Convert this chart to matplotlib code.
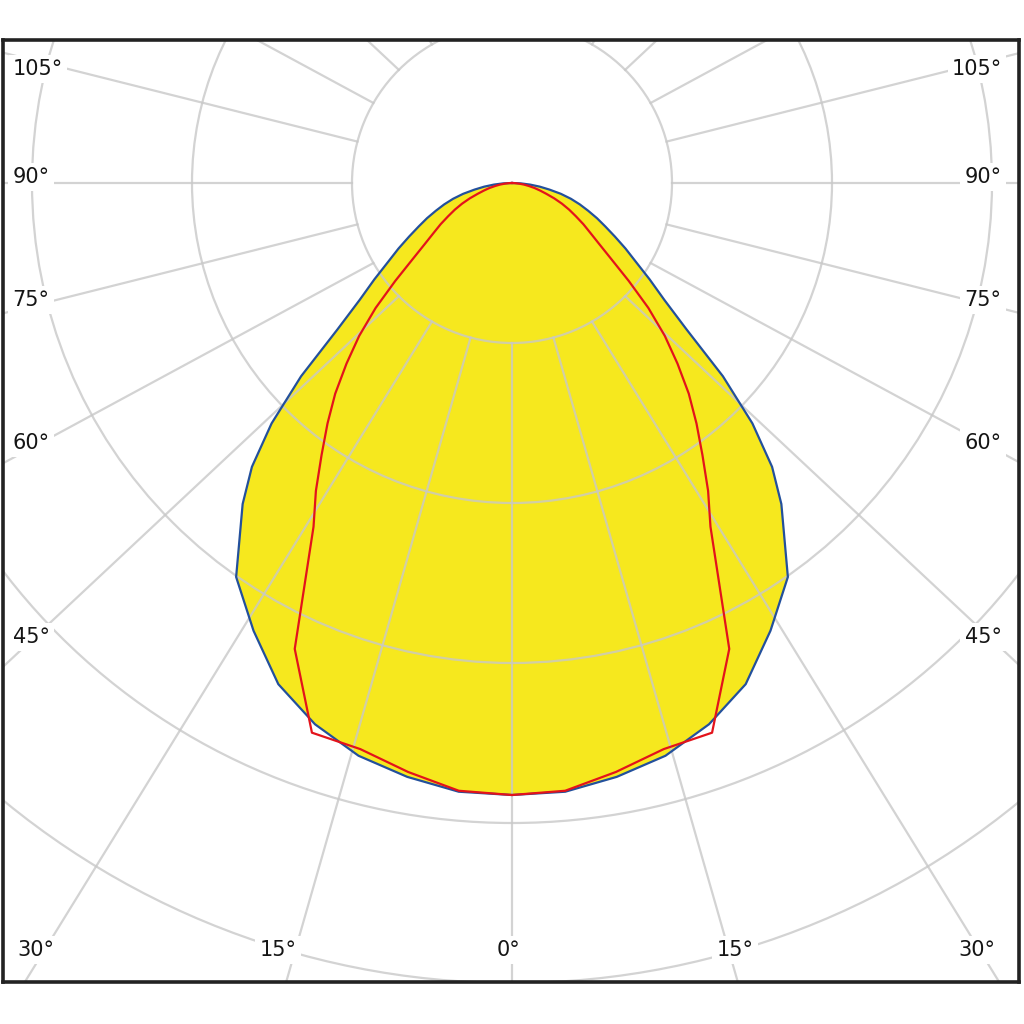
import numpy as np
import matplotlib.pyplot as plt
from matplotlib.patches import Circle

# gamma angles (deg from nadir) and intensities
gamma_c0 = [0, 5, 10, 15, 20, 25, 30, 35, 40, 42.5, 45, 47.5, 50, 52.5, 55, 57.5,
            60, 62.5, 65, 67.5, 70, 72.5, 75, 77.5, 80, 82.5, 85, 87.5, 90]
c0_c180 = [382.5, 381.9, 376.9, 370.6, 360.0, 345.6, 323.1, 300.6, 261.9, 240.6,
           212.5, 178.8, 142.5, 120.0, 105.0, 91.9, 81.9, 72.5, 64.4, 57.5, 50.6,
           44.4, 38.1, 31.3, 23.8, 17.5, 11.3, 5.6, 0]

gamma_c90 = [0, 5, 10, 15, 20, 25, 30, 32.5, 35, 37.5, 40, 42.5, 45, 47.5, 50, 52.5,
             55, 57.5, 60, 62.5, 65, 67.5, 70, 72.5, 75, 77.5, 80, 82.5, 85, 87.5, 90]
c90_c270 = [382.5, 381.3, 373.8, 366.3, 365.6, 321.3, 248.1, 228.1, 207.5, 189.4,
            171.9, 153.1, 135.0, 115.6, 95.3, 78.4, 66.6, 58.1, 51.5, 45.0, 39.4,
            33.8, 28.1, 22.5, 18.1, 14.4, 10.6, 7.5, 4.4, 1.9, 0]

ring_values = [100, 200, 300, 400, 500, 600]
spoke_angles = list(range(-180, 181, 15))

side_labels = ["105°", "90°", "75°", "60°", "45°"]
bottom_labels = ["30°", "15°", "0°", "15°", "30°"]

PX = 1.6  # pixels per intensity unit
CX, CY = 512, 183  # pole position in pixels
SPOKE_STRETCH = 1.057  # spokes fan out a little wider than the true angle


def to_xy(angles, values):
    a = np.radians(np.asarray(angles, dtype=float))
    v = np.asarray(values, dtype=float)
    return v * np.sin(a), -v * np.cos(a)


def mirrored(angles, values):
    a = [-g for g in angles[::-1]] + list(angles[1:])
    v = list(values[::-1]) + list(values[1:])
    return a, v


fig = plt.figure(figsize=(10.24, 10.24), dpi=100)
left_px, right_px, top_px, bottom_px = 3, 1019, 40, 982
ax = fig.add_axes([left_px / 1024, 1 - bottom_px / 1024,
                   (right_px - left_px) / 1024, (bottom_px - top_px) / 1024])
ax.set_xlim((left_px - CX) / PX, (right_px - CX) / PX)
ax.set_ylim((CY - bottom_px) / PX, (CY - top_px) / PX)
ax.set_xticks([])
ax.set_yticks([])
for s in ax.spines.values():
    s.set_linewidth(2.6)
    s.set_color("#222222")

grid_kw = dict(color="#c8c8c8", lw=1.6, alpha=0.8, zorder=2)

# blue (C0-C180) filled
ga, va = mirrored(gamma_c0, c0_c180)
bx, by = to_xy(ga, va)
ax.fill(bx, by, color="#f6e81e", zorder=1, lw=0)

# grid
for r in ring_values:
    ax.add_patch(Circle((0, 0), r, fill=False, ec=grid_kw["color"], lw=grid_kw["lw"],
                        alpha=grid_kw["alpha"], zorder=2))
for g in spoke_angles:
    x0, y0 = to_xy([g], [ring_values[0]])
    x1, y1 = to_xy([g], [625])
    ax.plot([x0[0], x1[0] * SPOKE_STRETCH], [y0[0], y1[0]], **grid_kw)

ax.plot(bx, by, color="#23509c", lw=1.6, zorder=3)

ra, rv = mirrored(gamma_c90, c90_c270)
rx, ry = to_xy(ra, rv)
ax.plot(rx, ry, color="#e3131b", lw=1.6, zorder=4)

# angle labels
txt_kw = dict(fontsize=15, ha="center", va="center", color="#151515", zorder=6,
              bbox=dict(boxstyle="square,pad=0.2", fc="white", ec="none"))
side_y = [69, 177, 300, 443, 637]
left_x = [38, 31, 31, 31, 31]
right_x = [977, 983, 983, 983, 983]
for lab, py, lx, rx_ in zip(side_labels, side_y, left_x, right_x):
    ax.text((lx - CX) / PX, (CY - py) / PX, lab, **txt_kw)
    ax.text((rx_ - CX) / PX, (CY - py) / PX, lab, **txt_kw)
bottom_x = [36, 278, 508, 735, 977]
for lab, px in zip(bottom_labels, bottom_x):
    ax.text((px - CX) / PX, (CY - 950) / PX, lab, **txt_kw)

fig.savefig("out.png", dpi=100)
